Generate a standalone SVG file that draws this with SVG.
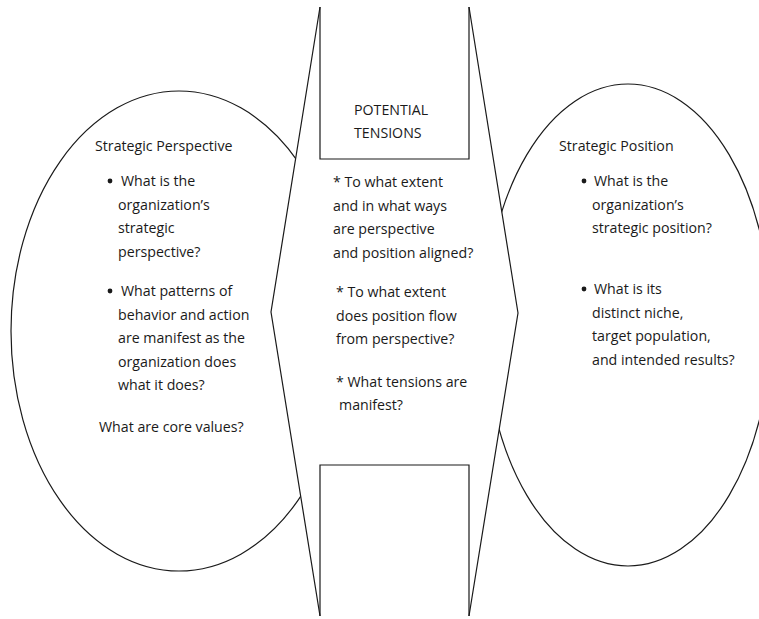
<svg xmlns="http://www.w3.org/2000/svg" width="759" height="619" viewBox="0 0 759 619">
  <style>
    .outline { fill: none; stroke: #1a1a1a; stroke-width: 1.2; }
    .txt { font-family: "Open Sans", "Liberation Sans", sans-serif; font-size: 14.2px; fill: #1a1a1a; }
    .dot { fill: #1a1a1a; }
  </style>
  <rect width="759" height="619" fill="#ffffff"/>

  <!-- Left oval: strategic perspective -->
  <g id="perspective">
    <ellipse class="outline" cx="179" cy="331" rx="168" ry="240"/>
    <text class="txt" x="95" y="151">Strategic Perspective</text>
    <circle class="dot" cx="110" cy="181" r="2.4"/>
    <text class="txt" x="121" y="186">What is the</text>
    <text class="txt" x="118" y="209.5">organization’s</text>
    <text class="txt" x="118" y="233">strategic</text>
    <text class="txt" x="118" y="256.5">perspective?</text>
    <circle class="dot" cx="110" cy="291" r="2.4"/>
    <text class="txt" x="121" y="296">What patterns of</text>
    <text class="txt" x="118" y="319.5">behavior and action</text>
    <text class="txt" x="118" y="343">are manifest as the</text>
    <text class="txt" x="118" y="366.5">organization does</text>
    <text class="txt" x="118" y="390">what it does?</text>
    <text class="txt" x="99" y="432">What are core values?</text>
  </g>

  <!-- Right oval: strategic position -->
  <g id="position">
    <ellipse class="outline" cx="628" cy="325" rx="143" ry="241"/>
    <text class="txt" x="559" y="151">Strategic Position</text>
    <circle class="dot" cx="584" cy="181" r="2.4"/>
    <text class="txt" x="594" y="186">What is the</text>
    <text class="txt" x="592" y="209.5">organization’s</text>
    <text class="txt" x="592" y="233">strategic position?</text>
    <circle class="dot" cx="584" cy="289" r="2.4"/>
    <text class="txt" x="594" y="294">What is its</text>
    <text class="txt" x="592" y="317.5">distinct niche,</text>
    <text class="txt" x="592" y="341">target population,</text>
    <text class="txt" x="592" y="364.5">and intended results?</text>
  </g>

  <!-- Central double-pointed band with the two open boxes -->
  <g id="tensions">
    <polygon points="320,7 271,312 320,616 469,616 518,313 469,7" fill="#ffffff" stroke="none"/>
    <polyline class="outline" points="320,7 271,312 320,616"/>
    <polyline class="outline" points="469,7 518,313 469,616"/>
    <polyline class="outline" points="320,7 320,159 469,159 469,7"/>
    <polyline class="outline" points="320,616 320,465 469,465 469,616"/>
    <text class="txt" x="354" y="115">POTENTIAL</text>
    <text class="txt" x="354" y="138">TENSIONS</text>
    <text class="txt" x="333" y="187">* To what extent</text>
    <text class="txt" x="333" y="210.5">and in what ways</text>
    <text class="txt" x="333" y="234">are perspective</text>
    <text class="txt" x="333" y="257.5">and position aligned?</text>
    <text class="txt" x="336" y="297">* To what extent</text>
    <text class="txt" x="336" y="320.5">does position flow</text>
    <text class="txt" x="336" y="344">from perspective?</text>
    <text class="txt" x="336" y="387">* What tensions are</text>
    <text class="txt" x="339" y="410">manifest?</text>
  </g>
</svg>
